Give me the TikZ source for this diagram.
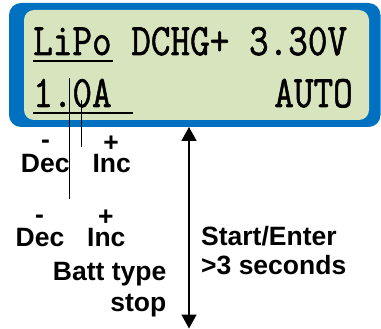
\documentclass[tikz,border=0pt]{standalone}
\usepackage{fontspec}
\usepackage{graphicx}
\setmainfont{Liberation Sans}
\newfontfamily\lcdfont[FakeBold=1.3]{Latin Modern Mono}
\usetikzlibrary{arrows.meta}
\definecolor{lcdblue}{HTML}{0070C0}
\definecolor{lcdgreen}{HTML}{D7E4BD}
\tikzset{
  lcd/.style={inner sep=0pt, font=\lcdfont\fontsize{38.1}{40}\selectfont},
  lbl/.style={inner sep=0pt, font=\bfseries\fontsize{26.5}{30}\selectfont},
  sign/.style={lbl, anchor=base, text height=16pt, text depth=0pt},
  pointer/.style={line width=1pt},
  uline/.style={line width=1.3pt},
  bigarrow/.style={line width=1.6pt, {Triangle[width=15pt,length=14pt]}-{Triangle[width=15pt,length=14pt]}}
}
\begin{document}
\begin{tikzpicture}[x=1pt,y=-1pt]
\useasboundingbox (0,0) rectangle (381,329);
% display frame
\fill[lcdblue, rounded corners=12pt] (9,3) rectangle (380.5,127);
\fill[lcdgreen, rounded corners=10pt] (24,10) rectangle (369,120);
% LCD text
\node[lcd, anchor=base west] (l1) at (33,55) {\scalebox{1}[1.18]{LiPo DCHG+ 3.30V}};
\node[lcd, anchor=base west] (l2a) at (33,107) {\scalebox{1}[1.18]{1.0A}};
\node[lcd, anchor=base east] (l2b) at (353,107) {\scalebox{1}[1.18]{AUTO}};
\draw[uline] (33,61) -- (113,61);
\draw[uline] (33,113) -- (133,113);
% pointer lines
\coordinate (pa1) at (69.3,78);
\coordinate (pa2) at (69.3,199);
\coordinate (pb1) at (81.3,100);
\coordinate (pb2) at (81.3,147);
\draw[pointer] (pa1) -- (pa2);
\draw[pointer] (pb1) -- (pb2);
% labels
\node[sign] (m1) at (45.5,148.4) {-};
\node[sign] (p1) at (111.2,151.5) {+};
\node[lbl, anchor=base] (dec1) at (45.3,172.3) {Dec};
\node[lbl, anchor=base] (inc1) at (111.7,172.3) {Inc};
\node[sign] (m2) at (39.5,223.4) {-};
\node[sign] (p2) at (105.8,225.6) {+};
\node[lbl, anchor=base] (dec2) at (40,246.7) {Dec};
\node[lbl, anchor=base] (inc2) at (106.3,246.7) {Inc};
\node[lbl, anchor=base east] (batt) at (166.5,280.7) {Batt type};
\node[lbl, anchor=base east] (stop) at (166.5,311.7) {stop};
\node[lbl, anchor=base west] (start) at (201,245) {Start/Enter};
\node[lbl, anchor=base west] (secs) at (201,274.3) {>3 seconds};
% start arrow
\coordinate (at) at (189,127);
\coordinate (ab) at (189,328.5);
\draw[bigarrow] (at) -- (ab);
\end{tikzpicture}
\end{document}
